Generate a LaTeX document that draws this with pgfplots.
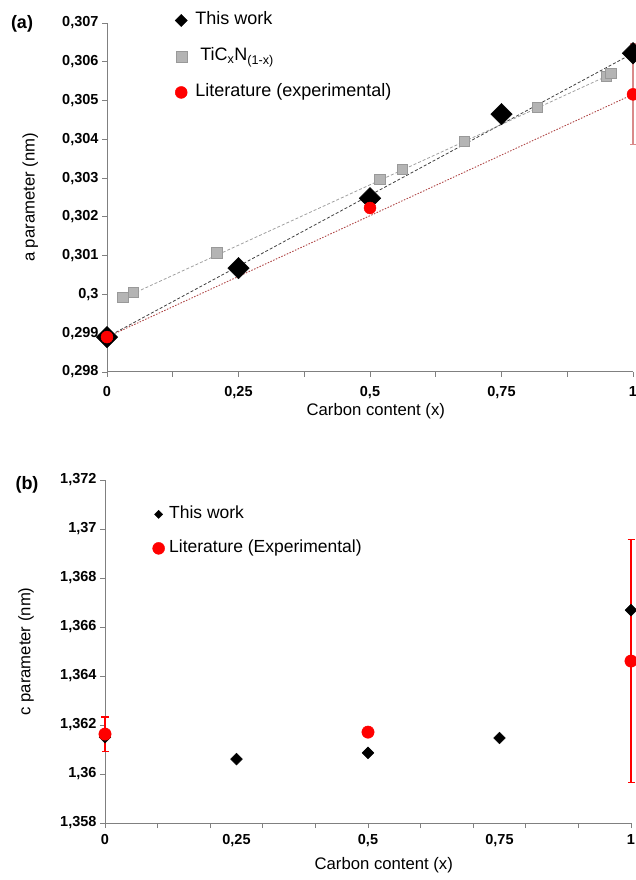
\documentclass[border=0pt]{standalone}
\usepackage{fontspec}
\setmainfont{Liberation Sans}
\usepackage{pgfplots}
\pgfplotsset{compat=1.18}
\definecolor{axgray}{HTML}{808080}
\definecolor{sqfill}{HTML}{B4B4B4}
\definecolor{sqdraw}{HTML}{999999}
\definecolor{errpink}{HTML}{D98A8A}
\definecolor{trendred}{HTML}{B04848}
\definecolor{trendblack}{HTML}{404040}
\definecolor{trendgray}{HTML}{A0A0A0}
\pgfplotsset{
  myax/.style={
    scale only axis, width=526bp,
    axis x line=bottom, axis y line=left,
    axis line style={-, draw=axgray, line width=1bp},
    tick style={axgray, line width=0.8bp},
    tick align=outside, major tick length=5bp, minor tick length=5bp,
    xmin=0, xmax=1, clip=false, scaled y ticks=false, scaled x ticks=false,
    xtick={0,0.25,0.5,0.75,1},
    xticklabels={0,{0,25},{0,5},{0,75},1},
    ticklabel style={font=\fontsize{14.5bp}{16bp}\selectfont\bfseries},
    label style={font=\fontsize{16.7bp}{19bp}\selectfont},
    legend cell align=left,
  }
}
\begin{document}
\begin{tikzpicture}
\useasboundingbox (0,0) rectangle (636bp,880bp);
\begin{axis}[myax, height=349bp, at={(107bp,508bp)}, anchor=south west,
  ymin=0.298, ymax=0.307,
  ytick={0.298,0.299,0.3,0.301,0.302,0.303,0.304,0.305,0.306,0.307},
  yticklabels={{0,298},{0,299},{0,3},{0,301},{0,302},{0,303},{0,304},{0,305},{0,306},{0,307}},
  minor xtick={0.125,0.375,0.625,0.875},
  xticklabel style={yshift=-6bp},
  xlabel={Carbon content (x)}, ylabel={a parameter (nm)},
  xlabel style={at={(axis description cs:0.511,-0.112)}, anchor=center},
  ylabel style={at={(axis description cs:-0.146,0.5)}, anchor=center},
  legend style={draw=none, fill=none, at={(axis description cs:0.1235,1.038)}, anchor=north west,
    font=\fontsize{18bp}{20bp}\selectfont, row sep=19bp, column sep=8bp,
    nodes={inner sep=0pt, text height=13bp, text depth=4bp}},
]
\addplot[trendblack, dash pattern=on 3bp off 2bp, line width=0.8bp, forget plot] coordinates {(0,0.2989) (1,0.30622)};
\addplot[trendgray, dash pattern=on 3bp off 2bp, line width=0.8bp, forget plot] coordinates {(0.03,0.29990) (0.958,0.30568)};
\addplot[trendred, dash pattern=on 1.5bp off 1.5bp, line width=0.9bp, forget plot] coordinates {(0,0.2989) (1,0.30516)};
\addplot[only marks, mark=square*, mark size=7.6bp, mark options={rotate=45, fill=black, draw=black},
  legend image code/.code={\draw[mark=square*, mark size=4.3bp, mark options={rotate=45, fill=black, draw=black}] plot coordinates {(0bp,0bp)};}]
  coordinates {(0,0.2989) (0.25,0.30068) (0.5,0.30248) (0.75,0.30465) (1,0.30622)};
\addlegendentry{This work}
\addplot[only marks, mark=square*, mark size=5.3bp, mark options={fill=sqfill, draw=sqdraw},
  legend image code/.code={\draw[mark=square*, mark size=5.5bp, mark options={fill=sqfill, draw=sqdraw}] plot coordinates {(0bp,0bp)};}]
  coordinates {(0.030,0.29993) (0.050,0.30006) (0.209,0.30107) (0.519,0.30297) (0.561,0.30323) (0.679,0.30395) (0.818,0.30483) (0.949,0.30563) (0.958,0.30571)};
\addlegendentry{\hspace{5bp}TiC\textsubscript{x}N\textsubscript{(1-x)}}
\addplot[only marks, mark=*, mark size=6bp, mark options={fill=red, draw=red},
  legend image code/.code={\draw[mark=*, mark size=6bp, mark options={fill=red, draw=red}] plot coordinates {(0bp,0bp)};},
  error bars/.cd, y dir=both, y explicit,
  error bar style={errpink, line width=1.2bp},
  error mark options={rotate=90, errpink, mark size=3bp, line width=1.2bp}]
  coordinates {(0,0.2989) +- (0,0) (0.5,0.30223) +- (0,0) (1,0.30516) +- (0,0.0013)};
\addlegendentry{Literature (experimental)}
\end{axis}
\begin{axis}[myax, height=343bp, at={(105bp,57bp)}, anchor=south west,
  ymin=1.358, ymax=1.372,
  ytick={1.358,1.360,1.362,1.364,1.366,1.368,1.370,1.372},
  yticklabels={{1,358},{1,36},{1,362},{1,364},{1,366},{1,368},{1,37},{1,372}},
  minor xtick={0,0.1,0.2,0.3,0.4,0.5,0.6,0.7,0.8,0.9,1},
  major x tick style={draw=none},
  xticklabel style={yshift=-3bp},
  xlabel={Carbon content (x)}, ylabel={c parameter (nm)},
  xlabel style={at={(axis description cs:0.530,-0.1235)}, anchor=center},
  ylabel style={at={(axis description cs:-0.150,0.5)}, anchor=center},
  legend style={draw=none, fill=none, at={(axis description cs:0.0845,0.931)}, anchor=north west,
    font=\fontsize{17.5bp}{20bp}\selectfont, row sep=17bp, column sep=4.5bp,
    nodes={inner sep=0pt, text height=13bp, text depth=4bp}},
]
\addplot[only marks, mark=square*, mark size=4.2bp, mark options={rotate=45, fill=black, draw=black},
  legend image code/.code={\draw[mark=square*, mark size=2.9bp, mark options={rotate=45, fill=black, draw=black}] plot coordinates {(0bp,0bp)};}]
  coordinates {(0,1.3615) (0.25,1.36061) (0.5,1.36086) (0.75,1.36147) (1,1.36669)};
\addlegendentry{This work}
\addplot[only marks, mark=*, mark size=6.2bp, mark options={fill=red, draw=red},
  legend image code/.code={\draw[mark=*, mark size=6bp, mark options={fill=red, draw=red}] plot coordinates {(0bp,0bp)};},
  error bars/.cd, y dir=both, y explicit,
  error bar style={red, line width=1.2bp},
  error mark options={rotate=90, red, mark size=3.5bp, line width=1.2bp}]
  coordinates {(0,1.36163) +- (0,0.0007) (0.5,1.36171) +- (0,0) (1,1.36461) +- (0,0.00497)};
\addlegendentry{Literature (Experimental)}
\end{axis}
\node[font=\fontsize{18bp}{20bp}\selectfont\bfseries] at (22bp,856bp) {(a)};
\node[font=\fontsize{18bp}{20bp}\selectfont\bfseries] at (27bp,395bp) {(b)};
\end{tikzpicture}
\end{document}
